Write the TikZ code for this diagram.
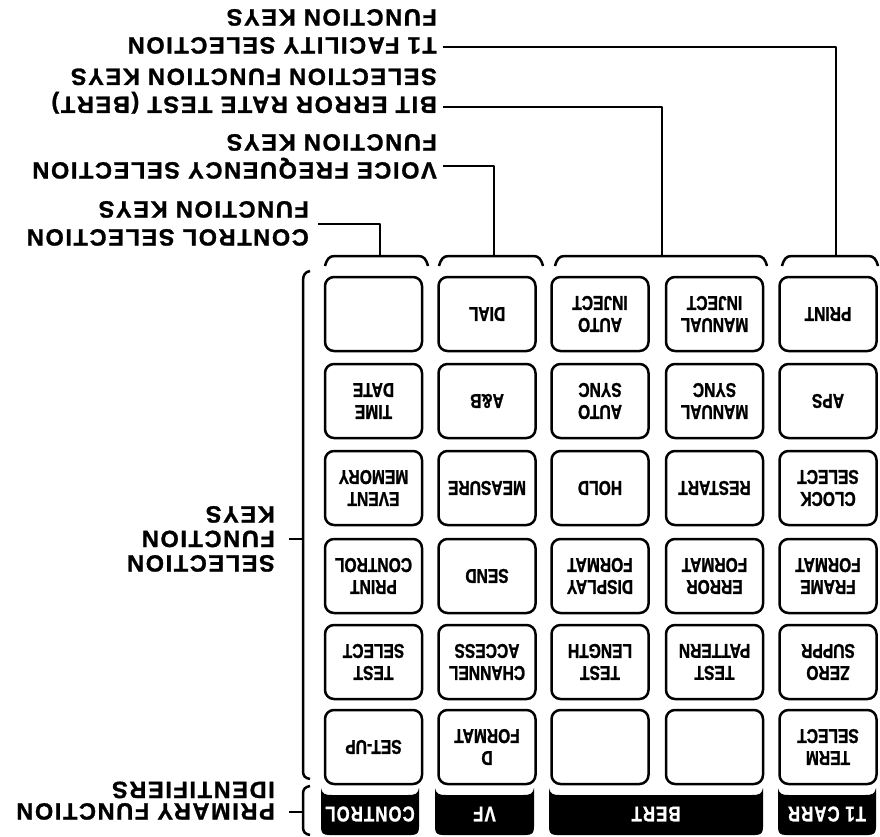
\documentclass[tikz,border=0pt]{standalone}
\usepackage{fontspec}
\setmainfont{Liberation Sans}
\newfontfamily\lblfont[LetterSpace=7,FakeBold=1.2]{Liberation Sans Bold}
\newfontfamily\keyfont[FakeStretch=0.78,FakeBold=1.2]{Liberation Sans Bold}
\newfontfamily\tabfont[FakeStretch=0.78,LetterSpace=5,FakeBold=1.0]{Liberation Sans Bold}
\newcommand\mytab[2]{%
  \fill (#1,788) .. controls ({#1+1},794) and ({#1+4},795) .. ({#1+11},795)
    -- ({#2-11},795) .. controls ({#2-4},795) and ({#2-1},794) .. (#2,788)
    -- (#2,827) .. controls (#2,833) and ({#2-2},835) .. ({#2-8},835)
    -- ({#1+8},835) .. controls ({#1+2},835) and (#1,833) .. (#1,827) -- cycle;}
\newcommand\mybrack[2]{%
  \draw (#1,266) .. controls ({#1+2},259) and ({#1+4},256) .. ({#1+10},256)
    -- ({#2-10},256) .. controls ({#2-4},256) and ({#2-2},259) .. (#2,266);}
\begin{document}
\begin{tikzpicture}[x=1pt,y=-1pt,line width=2.5pt,line join=round,
  lbl/.style={rotate=180,anchor=north west,inner sep=0pt,align=left,
    font={\lblfont\fontsize{23.5pt}{28pt}\selectfont}},
  keybox/.style={draw,line width=2.5pt,rounded corners=9pt,minimum width=97pt,
    minimum height=74pt,inner sep=0pt,rotate=180,align=center,
    font={\keyfont\fontsize{20pt}{22pt}\selectfont}},
  tablbl/.style={text=white,inner sep=0pt,rotate=180,
    font={\tabfont\fontsize{21.5pt}{21.5pt}\selectfont}},
  conn/.style={draw,line width=2.5pt}]
\useasboundingbox (0,0) rectangle (880,837);

% ---- top labels
\node[lbl] (t1lbl) at (438,55) {T1 FACILITY SELECTION\\FUNCTION KEYS};
\node[lbl] (bertlbl) at (438,115) {BIT ERROR RATE TEST (BERT)\\SELECTION FUNCTION KEYS};
\node[lbl] (vflbl) at (438,180) {VOICE FREQUENCY SELECTION\\FUNCTION KEYS};
\node[lbl] (ctrllbl) at (310,247) {CONTROL SELECTION\\FUNCTION KEYS};
% ---- left labels
\node[lbl,font={\lblfont\fontsize{23.5pt}{24.5pt}\selectfont}] (sellbl) at (276,573) {SELECTION\\FUNCTION\\KEYS};
\node[lbl,font={\lblfont\fontsize{23.5pt}{21.5pt}\selectfont}] (primlbl) at (276,821) {PRIMARY FUNCTION\\IDENTIFIERS};

% ---- top brackets
\mybrack{325}{428}
\mybrack{439}{543}
\mybrack{555}{767}
\mybrack{782}{878}

% ---- connectors
\coordinate (t1s) at (443,47);   \coordinate (t1e) at (836,256);
\coordinate (bes) at (443,107);  \coordinate (bee) at (662,256);
\coordinate (vfs) at (443,166);  \coordinate (vfe) at (494,256);
\coordinate (cts) at (318,224);  \coordinate (cte) at (380,256);
\draw[conn] (t1s) -| (t1e);
\draw[conn] (bes) -| (bee);
\draw[conn] (vfs) -| (vfe);
\draw[conn] (cts) -| (cte);

% ---- left brackets
\draw (310,271) .. controls (305,272) and (303,275) .. (303,281) -- (303,771)
  .. controls (303,776) and (305,778) .. (310,779);
\draw (310,786) .. controls (305,787) and (303,789) .. (303,794) -- (303,827)
  .. controls (303,832) and (305,834) .. (310,835);
\coordinate (seltick) at (289,539);  \coordinate (selb) at (303,539);
\coordinate (primtick) at (289,812); \coordinate (primb) at (303,812);
\draw[conn] (seltick) -- (selb);
\draw[conn] (primtick) -- (primb);

% ---- keys (columns A..E, rows 1..6)
% row 1
\node[keybox] (a1) at (373.5,314) {};
\node[keybox] (b1) at (487,314) {DIAL};
\node[keybox] (c1) at (600,314) {AUTO\\INJECT};
\node[keybox] (d1) at (714.5,314) {MANUAL\\INJECT};
\node[keybox] (e1) at (828,314) {PRINT};
% row 2
\node[keybox] (a2) at (373.5,401) {TIME\\DATE};
\node[keybox] (b2) at (487,401) {A\&B};
\node[keybox] (c2) at (600,401) {AUTO\\SYNC};
\node[keybox] (d2) at (714.5,401) {MANUAL\\SYNC};
\node[keybox] (e2) at (828,401) {APS};
% row 3
\node[keybox] (a3) at (373.5,488) {EVENT\\MEMORY};
\node[keybox] (b3) at (487,488) {MEASURE};
\node[keybox] (c3) at (600,488) {HOLD};
\node[keybox] (d3) at (714.5,488) {RESTART};
\node[keybox] (e3) at (828,488) {CLOCK\\SELECT};
% row 4
\node[keybox] (a4) at (373.5,576) {PRINT\\CONTROL};
\node[keybox] (b4) at (487,576) {SEND};
\node[keybox] (c4) at (600,576) {DISPLAY\\FORMAT};
\node[keybox] (d4) at (714.5,576) {ERROR\\FORMAT};
\node[keybox] (e4) at (828,576) {FRAME\\FORMAT};
% row 5
\node[keybox] (a5) at (373.5,662) {TEST\\SELECT};
\node[keybox] (b5) at (487,662) {CHANNEL\\ACCESS};
\node[keybox] (c5) at (600,662) {TEST\\LENGTH};
\node[keybox] (d5) at (714.5,662) {TEST\\PATTERN};
\node[keybox] (e5) at (828,662) {ZERO\\SUPPR};
% row 6
\node[keybox] (a6) at (373.5,747) {SET-UP};
\node[keybox] (b6) at (487,747) {D\\FORMAT};
\node[keybox] (c6) at (600,747) {};
\node[keybox] (d6) at (714.5,747) {};
\node[keybox] (e6) at (828,747) {TERM\\SELECT};

% ---- black identifier tabs
\mytab{321}{419}
\mytab{435}{534}
\mytab{549}{763}
\mytab{778}{876}
\node[tablbl] (tabctrl) at (370,814) {CONTROL};
\node[tablbl] (tabvf) at (484.5,814) {VF};
\node[tablbl] (tabbert) at (656,814) {BERT};
\node[tablbl] (tabt1) at (827,814) {T1 CARR};
\end{tikzpicture}
\end{document}
